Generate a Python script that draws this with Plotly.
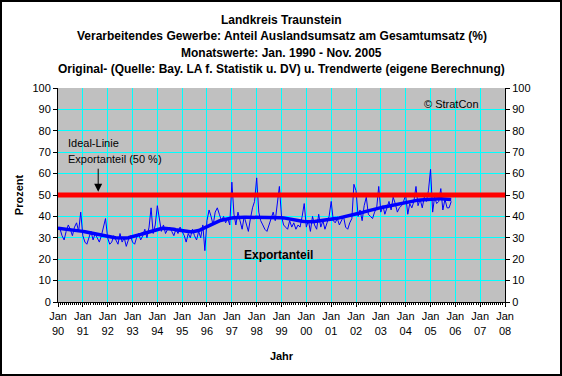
import pandas as pd
import plotly.graph_objects as go

# Monthly export share (%) Jan 1990 - Nov 2005
v1990 = [35, 34, 31, 29, 33, 36, 34, 31, 35, 37, 33, 42]
v1991 = [31, 28, 27, 30, 33, 29, 32, 30, 28, 31, 35, 39]
v1992 = [30, 27, 28, 31, 29, 27, 32, 28, 30, 26, 29, 31]
v1993 = [28, 27, 30, 32, 29, 31, 34, 30, 35, 44, 32, 36]
v1994 = [45, 38, 33, 36, 32, 34, 35, 33, 31, 34, 32, 35]
v1995 = [33, 31, 28, 32, 30, 34, 31, 29, 33, 30, 36, 24]
v1996 = [38, 43, 40, 36, 42, 44, 41, 38, 40, 37, 39, 36]
v1997 = [56, 41, 36, 42, 38, 34, 40, 37, 33, 39, 44, 47]
v1998 = [58, 42, 38, 36, 34, 33, 36, 40, 42, 38, 45, 54]
v1999 = [40, 36, 35, 34, 38, 35, 37, 34, 36, 35, 40, 46]
v2000 = [35, 38, 33, 40, 36, 34, 41, 35, 38, 34, 37, 40]
v2001 = [47, 38, 37, 39, 36, 38, 40, 35, 34, 37, 39, 55]
v2002 = [52, 40, 43, 38, 45, 49, 41, 40, 39, 42, 44, 54]
v2003 = [42, 45, 41, 44, 47, 43, 49, 46, 42, 44, 45, 47]
v2004 = [50, 41, 46, 44, 47, 54, 45, 48, 44, 49, 47, 52]
v2005 = [62, 42, 49, 46, 47, 53, 43, 48, 44, 44, 47]

# Trend values (own calculation)
t1990 = [34.5, 34.4, 34.3, 34.2, 34.1, 34.0, 33.9, 33.8, 33.7, 33.6, 33.4, 33.2]
t1991 = [33.0, 32.8, 32.6, 32.4, 32.2, 32.0, 31.8, 31.6, 31.4, 31.2, 31.0, 30.8]
t1992 = [30.6, 30.4, 30.3, 30.1, 30.0, 29.9, 29.8, 29.8, 29.8, 29.9, 30.0, 30.2]
t1993 = [30.4, 30.7, 31.0, 31.3, 31.6, 31.9, 32.2, 32.5, 32.8, 33.1, 33.4, 33.7]
t1994 = [34.0, 34.2, 34.3, 34.4, 34.4, 34.4, 34.3, 34.2, 34.0, 33.8, 33.6, 33.4]
t1995 = [33.2, 33.0, 32.9, 32.8, 32.8, 32.8, 32.9, 33.1, 33.4, 33.8, 34.3, 34.8]
t1996 = [35.3, 35.8, 36.3, 36.8, 37.2, 37.6, 37.9, 38.2, 38.5, 38.7, 38.9, 39.1]
t1997 = [39.3, 39.4, 39.5, 39.5, 39.6, 39.6, 39.6, 39.6, 39.6, 39.6, 39.6, 39.7]
t1998 = [39.7, 39.7, 39.8, 39.8, 39.8, 39.8, 39.8, 39.8, 39.7, 39.7, 39.6, 39.5]
t1999 = [39.4, 39.3, 39.1, 38.9, 38.7, 38.5, 38.3, 38.1, 37.9, 37.8, 37.7, 37.6]
t2000 = [37.5, 37.5, 37.5, 37.5, 37.6, 37.7, 37.8, 37.9, 38.0, 38.1, 38.2, 38.4]
t2001 = [38.5, 38.7, 38.9, 39.1, 39.3, 39.5, 39.7, 39.9, 40.1, 40.3, 40.5, 40.7]
t2002 = [40.9, 41.2, 41.5, 41.8, 42.1, 42.4, 42.7, 43.0, 43.3, 43.5, 43.7, 43.9]
t2003 = [44.1, 44.3, 44.5, 44.7, 44.9, 45.1, 45.3, 45.5, 45.7, 45.9, 46.1, 46.3]
t2004 = [46.5, 46.7, 46.9, 47.1, 47.3, 47.5, 47.6, 47.7, 47.8, 47.9, 48.0, 48.1]
t2005 = [48.1, 48.2, 48.2, 48.2, 48.2, 48.2, 48.1, 48.1, 48.0, 48.0, 47.9]

ideal_value = 50
year_labels = ["90", "91", "92", "93", "94", "95", "96", "97", "98", "99",
               "00", "01", "02", "03", "04", "05", "06", "07", "08"]
tick_years = list(range(1990, 2009))

values = (v1990 + v1991 + v1992 + v1993 + v1994 + v1995 + v1996 + v1997 +
          v1998 + v1999 + v2000 + v2001 + v2002 + v2003 + v2004 + v2005)
trend = (t1990 + t1991 + t1992 + t1993 + t1994 + t1995 + t1996 + t1997 +
         t1998 + t1999 + t2000 + t2001 + t2002 + t2003 + t2004 + t2005)
dates = pd.date_range("1990-01-01", periods=len(values), freq="MS")

FONT = "Liberation Sans, Arial, sans-serif"

fig = go.Figure()
fig.add_trace(go.Scatter(x=dates, y=values, mode="lines",
                         line=dict(color="#0000FF", width=1), showlegend=False))
fig.add_trace(go.Scatter(x=dates, y=trend, mode="lines",
                         line=dict(color="#0000FF", width=3.5), showlegend=False))
fig.add_trace(go.Scatter(x=["1990-01-01", "2008-01-01"], y=[ideal_value, ideal_value],
                         mode="lines", line=dict(color="#FF0000", width=5),
                         showlegend=False))
# invisible trace for right axis
fig.add_trace(go.Scatter(x=[dates[0]], y=[0], yaxis="y2", mode="markers",
                         marker=dict(opacity=0), showlegend=False, hoverinfo="skip"))

tickvals = [f"{y}-01-01" for y in tick_years]
ticktext = [f"Jan<br>{l}" for l in year_labels]

fig.update_layout(
    width=562, height=376,
    margin=dict(l=58, r=57, t=88, b=74),
    paper_bgcolor="white", plot_bgcolor="#C0C0C0",
    font=dict(family=FONT, size=11, color="black"),
    xaxis=dict(range=["1990-01-01", "2008-01-01"], tickvals=tickvals, ticktext=ticktext,
               showgrid=True, gridcolor="#00FFFF", gridwidth=1,
               ticks="outside", ticklen=4, tickcolor="black",
               showline=True, linecolor="black", linewidth=1, mirror=False,
               minor=dict(dtick="M1", ticks="outside", ticklen=2, tickcolor="black", showgrid=False),
               title=dict(text="<b>Jahr</b>", font=dict(size=11), standoff=16),
               tickfont=dict(size=11), zeroline=False),
    yaxis=dict(range=[0, 100], dtick=10, showgrid=True, gridcolor="#00FFFF", gridwidth=1,
               ticks="outside", ticklen=4, tickcolor="black",
               showline=True, linecolor="black", linewidth=1,
               title=dict(text="<b>Prozent</b>", font=dict(size=11), standoff=6),
               tickfont=dict(size=11), zeroline=False),
    yaxis2=dict(range=[0, 100], dtick=10, overlaying="y", side="right", showgrid=False,
                ticks="outside", ticklen=4, tickcolor="black",
                showline=True, linecolor="black", linewidth=1,
                tickfont=dict(size=11), zeroline=False),
)

titles = [
    "Landkreis Traunstein",
    "Verarbeitendes Gewerbe: Anteil Auslandsumsatz am Gesamtumsatz (%)",
    "Monatswerte: Jan. 1990 - Nov. 2005",
    "Original- (Quelle: Bay. LA f. Statistik u. DV) u. Trendwerte (eigene Berechnung)",
]
for i, t in enumerate(titles):
    fig.add_annotation(text=f"<b>{t}</b>", xref="paper", yref="paper",
                       x=0.5, y=1 + (68 - 16.3 * i) / 214, xanchor="center", yanchor="middle",
                       showarrow=False, font=dict(size=12))

fig.add_annotation(text="Ideal-Linie", x="1990-05-01", y=74.3, xanchor="left", yanchor="middle",
                   showarrow=False, font=dict(size=11))
fig.add_annotation(text="Exportanteil (50 %)", x="1990-05-01", y=66.8, xanchor="left",
                   yanchor="middle", showarrow=False, font=dict(size=11))
fig.add_annotation(x="1991-08-15", y=51.5, ax="1991-08-15", ay=63, axref="x", ayref="y",
                   xref="x", yref="y", text="", showarrow=True, arrowhead=2, arrowsize=1.6,
                   arrowwidth=1, arrowcolor="black")
fig.add_annotation(text="© StratCon", x="2004-09-01", y=92.5, xanchor="left", yanchor="middle",
                   showarrow=False, font=dict(size=11))
fig.add_annotation(text="<b>Exportanteil</b>", x="1997-06-01", y=22, xanchor="left",
                   yanchor="middle", showarrow=False, font=dict(size=12))

# outer frame
fig.add_shape(type="rect", xref="paper", yref="paper",
              x0=-57 / 447, x1=1 + 56 / 447, y0=-73 / 214, y1=1 + 87 / 214,
              line=dict(color="black", width=2), fillcolor="rgba(0,0,0,0)")

fig.write_html("out.html", config={"displayModeBar": False},
               post_script="document.body.style.margin='0px';")
